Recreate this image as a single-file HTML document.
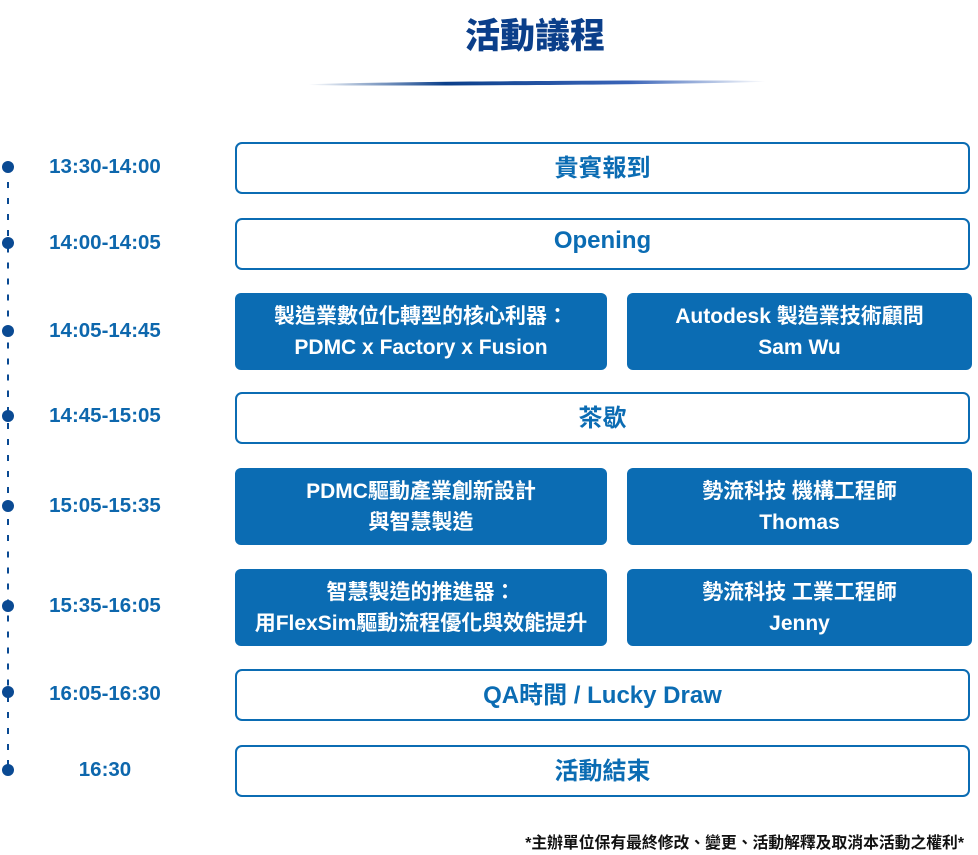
<!DOCTYPE html><html><head><meta charset="utf-8"><style>
body{margin:0;width:978px;height:855px;background:#fff;position:relative;font-family:"Liberation Sans","Noto Sans CJK TC",sans-serif;overflow:hidden}
.a{position:absolute}
.t{position:absolute;left:20px;width:170px;text-align:center;color:#0d67ad;font-weight:bold;font-size:20.5px;line-height:20px}
.d{position:absolute;left:2px;width:12px;height:12px;border-radius:50%;background:#0a4a93}
.o{position:absolute;left:235px;width:731px;height:48px;border:2.5px solid #0b6cb3;border-radius:7px;display:flex;align-items:center;justify-content:center;color:#0b6cb3;font-weight:bold;font-size:24px;box-sizing:content-box}
.o span{position:relative;top:-3px}
.f{position:absolute;background:#0b6cb3;border-radius:6px;color:#fff;font-weight:bold;font-size:21px;line-height:31px;display:flex;align-items:center;justify-content:center;text-align:center}
</style></head><body>
<div class="a" style="left:0;top:8px;width:1070px;text-align:center;font-size:35px;font-weight:900;color:#0b3f8a">活動議程</div>
<div class="a" style="left:308px;top:81px;width:458px;height:4px;background:linear-gradient(90deg,rgba(11,63,138,0),#0b3f8a 30%,#3a64b8 70%,rgba(80,110,200,0));border-radius:50%;transform:rotate(-0.4deg)"></div>
<div class="a" style="left:7px;top:167px;height:603px;border-left:2px dashed #0a4a93;border-image:repeating-linear-gradient(#0a4a93 0 6px,transparent 6px 16px) 1"></div>
<div class="d" style="top:161px"></div><div class="d" style="top:237px"></div><div class="d" style="top:325px"></div><div class="d" style="top:410px"></div><div class="d" style="top:500px"></div><div class="d" style="top:600px"></div><div class="d" style="top:686px"></div><div class="d" style="top:764px"></div>
<div class="t" style="top:157px">13:30-14:00</div>
<div class="t" style="top:233px">14:00-14:05</div>
<div class="t" style="top:321px">14:05-14:45</div>
<div class="t" style="top:406px">14:45-15:05</div>
<div class="t" style="top:496px">15:05-15:35</div>
<div class="t" style="top:596px">15:35-16:05</div>
<div class="t" style="top:684px">16:05-16:30</div>
<div class="t" style="top:760px">16:30</div>
<div class="o" style="top:142px"><span>貴賓報到</span></div>
<div class="o" style="top:218px"><span>Opening</span></div>
<div class="f" style="left:235px;top:293px;width:372px;height:77px">製造業數位化轉型的核心利器：<br>PDMC x Factory x Fusion</div>
<div class="f" style="left:627px;top:293px;width:345px;height:77px">Autodesk 製造業技術顧問<br>Sam Wu</div>
<div class="o" style="top:392px"><span>茶歇</span></div>
<div class="f" style="left:235px;top:468px;width:372px;height:77px">PDMC驅動產業創新設計<br>與智慧製造</div>
<div class="f" style="left:627px;top:468px;width:345px;height:77px">勢流科技 機構工程師<br>Thomas</div>
<div class="f" style="left:235px;top:569px;width:372px;height:77px">智慧製造的推進器：<br>用FlexSim驅動流程優化與效能提升</div>
<div class="f" style="left:627px;top:569px;width:345px;height:77px">勢流科技 工業工程師<br>Jenny</div>
<div class="o" style="top:669px"><span>QA時間 / Lucky Draw</span></div>
<div class="o" style="top:745px"><span>活動結束</span></div>
<div class="a" style="right:14px;top:830px;font-size:15.8px;font-weight:bold;color:#111">*主辦單位保有最終修改、變更、活動解釋及取消本活動之權利*</div>
</body></html>
